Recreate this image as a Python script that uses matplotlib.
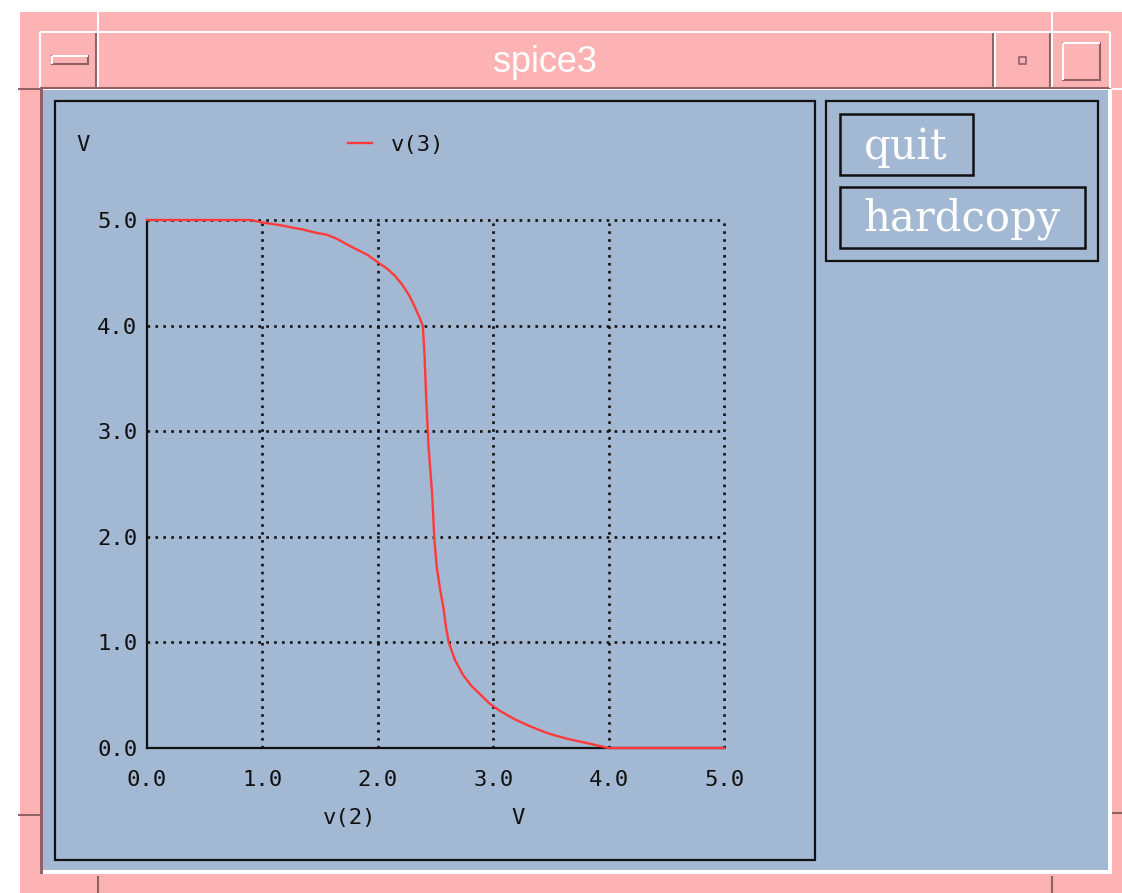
import numpy as np
import matplotlib.pyplot as plt
from matplotlib.patches import Rectangle

# transfer curve v(3) against v(2)
v2 = [0.0, 0.5, 0.9, 1.0, 1.16, 1.25, 1.35, 1.46, 1.56, 1.65, 1.73, 1.82, 1.91,
      2.0, 2.08, 2.15, 2.21, 2.27, 2.32, 2.36, 2.39, 2.405, 2.42, 2.44, 2.47,
      2.49, 2.51, 2.54, 2.57, 2.59, 2.615, 2.67, 2.74, 2.81, 2.885, 2.97, 3.06,
      3.19, 3.30, 3.40, 3.50, 3.65, 3.86, 4.0, 4.5, 5.0]
v3 = [5.0, 5.0, 5.0, 4.976, 4.95, 4.93, 4.91, 4.88, 4.86, 4.82, 4.77, 4.72, 4.67,
      4.60, 4.54, 4.47, 4.39, 4.29, 4.18, 4.08, 4.0, 3.72, 3.29, 2.85, 2.42,
      1.98, 1.72, 1.50, 1.32, 1.15, 1.0, 0.83, 0.69, 0.59, 0.51, 0.42, 0.35,
      0.27, 0.215, 0.17, 0.13, 0.085, 0.035, 0.0, 0.0, 0.0]
ticks = [0, 1, 2, 3, 4, 5]
tick_labels = ["0.0", "1.0", "2.0", "3.0", "4.0", "5.0"]

W, H = 1122, 893
pink = "#fdb3b3"
blue = "#a3b8d2"
dark = "#8f6266"
red = "#ff3a3a"
ink = "#111111"
mono = "DejaVu Sans Mono"

fig = plt.figure(figsize=(W / 100, H / 100), dpi=100, facecolor="white")

# window decoration, drawn in pixel coords
bg = fig.add_axes([0, 0, 1, 1], zorder=0)
bg.set_xlim(0, W)
bg.set_ylim(H, 0)
bg.axis("off")

def rect(x0, y0, x1, y1, **kw):
    bg.add_patch(Rectangle((x0, y0), x1 - x0, y1 - y0, **kw))

def line(xs, ys, c, lw=1.5):
    bg.plot(xs, ys, color=c, lw=lw, solid_capstyle="butt")

rect(20, 12, W, H, facecolor=pink, edgecolor="none")
# frame corner notches
line([98, 98], [8, 32], "white")
line([1052, 1052], [8, 32], "white")
line([98, 98], [876, H], dark)
line([1052, 1052], [876, H], dark)
line([18, 40], [89, 89], dark)
line([18, 40], [815, 815], dark)
line([1112, W], [89, 89], "white")
line([1112, W], [813, 813], dark)

# title bar
line([40, 1110], [32, 32], "white")
line([40, 40], [32, 88], "white")
line([40, 1110], [88, 88], dark)
line([1110, 1110], [32, 88], "white")
for sx in [98, 995, 1052]:
    line([sx - 1.5, sx - 1.5], [33, 87], dark)
    line([sx + 0.5, sx + 0.5], [33, 87], "white")
rect(52, 56, 88, 64, facecolor=pink, edgecolor=dark, lw=1.5)
line([52, 88], [56, 56], "white")
line([52, 52], [56, 64], "white")
rect(1019, 57, 1026, 64, facecolor=pink, edgecolor=dark, lw=1.2)
rect(1063, 43, 1100, 80, facecolor=pink, edgecolor=dark, lw=1.5)
line([1063, 1100], [43, 43], "white")
line([1063, 1063], [43, 80], "white")
bg.text(545, 63, "spice3", color="white", fontsize=26, family="Liberation Sans",
        ha="center", va="center")

# content area
rect(40, 89, 1112, 874, facecolor="white", edgecolor="none")
rect(40, 89, 43, 874, facecolor=dark, edgecolor="none")
rect(43, 90, 1108, 870, facecolor=blue, edgecolor="none")

# panels and buttons
rect(55, 101, 815, 860, facecolor="none", edgecolor=ink, lw=1.6)
rect(826, 101, 1098, 261, facecolor="none", edgecolor=ink, lw=1.6)
rect(840, 114, 973, 175, facecolor="none", edgecolor=ink, lw=1.8)
rect(840, 187, 1085, 248, facecolor="none", edgecolor=ink, lw=1.8)
bg.text(906, 147, "quit", color="white", fontsize=30, family="DejaVu Serif",
        ha="center", va="center")
bg.text(962, 219, "hardcopy", color="white", fontsize=30, family="DejaVu Serif",
        ha="center", va="center")

# plot
ax = fig.add_axes([147 / W, 1 - 748 / H, (724 - 147) / W, (748 - 220) / H], zorder=1)
ax.set_facecolor("none")
ax.plot(v2, v3, color=red, lw=1.7, label="v(3)", zorder=3, clip_on=False)
ax.set_xlim(0, 5)
ax.set_ylim(0, 5)
ax.set_xticks(ticks)
ax.set_xticklabels(tick_labels)
ax.set_yticks(ticks)
ax.set_yticklabels(tick_labels)
ax.tick_params(length=0, labelsize=16, labelcolor=ink)
ax.tick_params(axis="x", pad=16)
ax.tick_params(axis="y", pad=7)
for lab in ax.get_xticklabels() + ax.get_yticklabels():
    lab.set_family(mono)
ax.grid(True, color=ink, ls=(0, (1, 2)), lw=1.9)
# no dotted line under the axes, keep the outer (top / right) ones whole
ax.get_xgridlines()[0].set_visible(False)
ax.get_ygridlines()[0].set_visible(False)
ax.get_xgridlines()[-1].set_clip_on(False)
ax.get_ygridlines()[-1].set_clip_on(False)
for s in ["top", "right"]:
    ax.spines[s].set_visible(False)
for s in ["left", "bottom"]:
    ax.spines[s].set_color(ink)
    ax.spines[s].set_linewidth(1.6)
    ax.spines[s].set_zorder(2.5)

leg = ax.legend(loc="center left", bbox_to_anchor=(348 / W, 1 - 145 / H),
                bbox_transform=fig.transFigure, frameon=False, borderpad=0,
                borderaxespad=0, handlelength=1.1, handletextpad=0.85,
                prop={"family": mono, "size": 16})
for t in leg.get_texts():
    t.set_color(ink)

fig.text(83 / W, 1 - 145 / H, "V", family=mono, fontsize=16, color=ink,
         ha="center", va="center")
fig.text(350 / W, 1 - 818 / H, "v(2)", family=mono, fontsize=16, color=ink,
         ha="center", va="center")
fig.text(518 / W, 1 - 818 / H, "V", family=mono, fontsize=16, color=ink,
         ha="center", va="center")

fig.savefig("out.png", dpi=100, facecolor="white")
